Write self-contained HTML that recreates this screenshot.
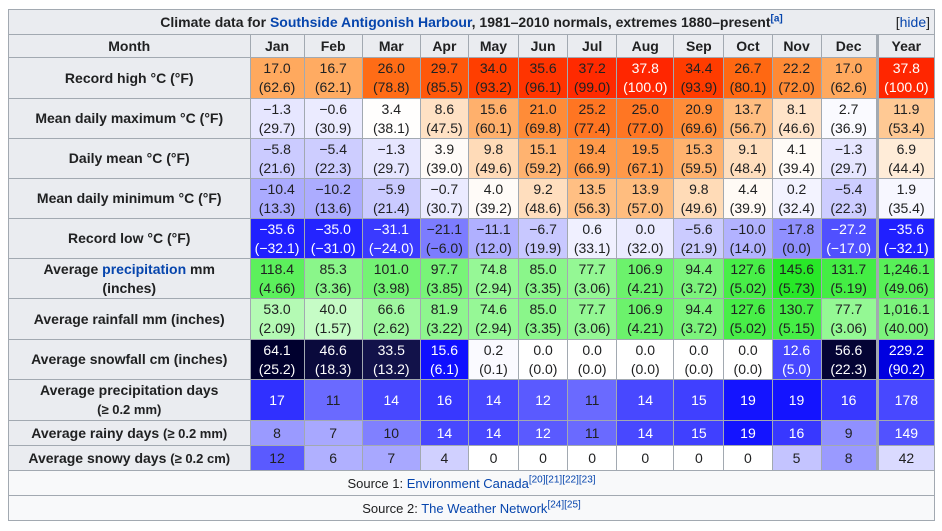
<!DOCTYPE html>
<html><head><meta charset="utf-8"><style>
body{margin:0;background:#fff;font-family:"Liberation Sans",Arial,sans-serif;font-size:14px;color:#202122}
table{position:absolute;left:8px;top:9px;border-collapse:collapse;table-layout:fixed;width:927px;background:#f8f9fa}
td,th{border:1px solid #a2a9b1;padding:0;text-align:center;line-height:19px;overflow:hidden;white-space:nowrap}
th{background:#eaecf0;font-weight:bold}
a{color:#0645ad;text-decoration:none}
.w{color:#fff}
sup{font-size:10px;line-height:0}
.y{border-left:3px solid #a2a9b1}
.s{font-size:13px}
</style></head><body>
<table>
<colgroup><col style="width:241px"><col style="width:54px"><col style="width:58px"><col style="width:58px"><col style="width:48px"><col style="width:50px"><col style="width:49px"><col style="width:49px"><col style="width:57px"><col style="width:50px"><col style="width:48px"><col style="width:49px"><col style="width:56px"><col style="width:57px"></colgroup>
<tr style="height:25px"><th colspan="14" style="position:relative">Climate data for <a>Southside Antigonish Harbour</a>, 1981–2010 normals, extremes 1880–present<sup><a>[a]</a></sup><span style="position:absolute;right:4px;font-weight:normal">[<a>hide</a>]</span></th></tr>
<tr style="height:23px"><th>Month</th><th>Jan</th><th>Feb</th><th>Mar</th><th>Apr</th><th>May</th><th>Jun</th><th>Jul</th><th>Aug</th><th>Sep</th><th>Oct</th><th>Nov</th><th>Dec</th><th class="y">Year</th></tr>
<tr style="height:41px"><th>Record high °C (°F)</th><td style="background:#ffa95e">17.0<br>(62.6)</td><td style="background:#ffab62">16.7<br>(62.1)</td><td style="background:#ff6c16">26.0<br>(78.8)</td><td style="background:#ff580a">29.7<br>(85.5)</td><td style="background:#ff3e00">34.0<br>(93.2)</td><td style="background:#ff3400">35.6<br>(96.1)</td><td style="background:#ff2a00">37.2<br>(99.0)</td><td class="w" style="background:#ff2600">37.8<br>(100.0)</td><td style="background:#ff3c00">34.4<br>(93.9)</td><td style="background:#ff6812">26.7<br>(80.1)</td><td style="background:#ff8a35">22.2<br>(72.0)</td><td style="background:#ffa95e">17.0<br>(62.6)</td><td class="w y" style="background:#ff2600">37.8<br>(100.0)</td></tr>
<tr style="height:40px"><th>Mean daily maximum °C (°F)</th><td style="background:#e6e6ff">−1.3<br>(29.7)</td><td style="background:#ebebff">−0.6<br>(30.9)</td><td style="background:#fffefd">3.4<br>(38.1)</td><td style="background:#ffe1c4">8.6<br>(47.5)</td><td style="background:#ffb06c">15.6<br>(60.1)</td><td style="background:#ff8c38">21.0<br>(69.8)</td><td style="background:#ff7522">25.2<br>(77.4)</td><td style="background:#ff7623">25.0<br>(77.0)</td><td style="background:#ff8d39">20.9<br>(69.6)</td><td style="background:#ffbd80">13.7<br>(56.7)</td><td style="background:#ffe3c8">8.1<br>(46.6)</td><td style="background:#fafaff">2.7<br>(36.9)</td><td class="y" style="background:#ffc994">11.9<br>(53.4)</td></tr>
<tr style="height:40px"><th>Daily mean °C (°F)</th><td style="background:#cbcbff">−5.8<br>(21.6)</td><td style="background:#cdcdff">−5.4<br>(22.3)</td><td style="background:#e6e6ff">−1.3<br>(29.7)</td><td style="background:#fffbf8">3.9<br>(39.0)</td><td style="background:#ffdbb8">9.8<br>(49.6)</td><td style="background:#ffb370">15.1<br>(59.2)</td><td style="background:#ff9a4a">19.4<br>(66.9)</td><td style="background:#ff9949">19.5<br>(67.1)</td><td style="background:#ffb26e">15.3<br>(59.5)</td><td style="background:#ffdebd">9.1<br>(48.4)</td><td style="background:#fffbf7">4.1<br>(39.4)</td><td style="background:#e6e6ff">−1.3<br>(29.7)</td><td class="y" style="background:#ffecd8">6.9<br>(44.4)</td></tr>
<tr style="height:40px"><th>Mean daily minimum °C (°F)</th><td style="background:#ababff">−10.4<br>(13.3)</td><td style="background:#acacff">−10.2<br>(13.6)</td><td style="background:#cacaff">−5.9<br>(21.4)</td><td style="background:#ebebff">−0.7<br>(30.7)</td><td style="background:#fffbf8">4.0<br>(39.2)</td><td style="background:#ffdebe">9.2<br>(48.6)</td><td style="background:#ffbf83">13.5<br>(56.3)</td><td style="background:#ffbd7f">13.9<br>(57.0)</td><td style="background:#ffdbb7">9.8<br>(49.6)</td><td style="background:#fffaf5">4.4<br>(39.9)</td><td style="background:#f3f3ff">0.2<br>(32.4)</td><td style="background:#cdcdff">−5.4<br>(22.3)</td><td class="y" style="background:#f7f7ff">1.9<br>(35.4)</td></tr>
<tr style="height:40px"><th>Record low °C (°F)</th><td class="w" style="background:#2020ff">−35.6<br>(−32.1)</td><td class="w" style="background:#2424ff">−35.0<br>(−31.0)</td><td class="w" style="background:#3a3aff">−31.1<br>(−24.0)</td><td style="background:#7c7cff">−21.1<br>(−6.0)</td><td style="background:#b0b0ff">−11.1<br>(12.0)</td><td style="background:#c8c8ff">−6.7<br>(19.9)</td><td style="background:#f0f0ff">0.6<br>(33.1)</td><td style="background:#ebebff">0.0<br>(32.0)</td><td style="background:#cbcbff">−5.6<br>(21.9)</td><td style="background:#b2b2ff">−10.0<br>(14.0)</td><td style="background:#9090ff">−17.8<br>(0.0)</td><td class="w" style="background:#5050ff">−27.2<br>(−17.0)</td><td class="w y" style="background:#2020ff">−35.6<br>(−32.1)</td></tr>
<tr style="height:40px"><th>Average <a>precipitation</a> mm<br>(inches)</th><td style="background:#5cf05c">118.4<br>(4.66)</td><td style="background:#8af68a">85.3<br>(3.36)</td><td style="background:#74f374">101.0<br>(3.98)</td><td style="background:#78f478">97.7<br>(3.85)</td><td style="background:#96f896">74.8<br>(2.94)</td><td style="background:#8af68a">85.0<br>(3.35)</td><td style="background:#94f894">77.7<br>(3.06)</td><td style="background:#6cf26c">106.9<br>(4.21)</td><td style="background:#7cf47c">94.4<br>(3.72)</td><td style="background:#48ee48">127.6<br>(5.02)</td><td style="background:#28e828">145.6<br>(5.73)</td><td style="background:#44ed44">131.7<br>(5.19)</td><td class="y" style="background:#58f058">1,246.1<br>(49.06)</td></tr>
<tr style="height:41px"><th>Average rainfall mm (inches)</th><td style="background:#b4fab4">53.0<br>(2.09)</td><td style="background:#c6fcc6">40.0<br>(1.57)</td><td style="background:#a0f8a0">66.6<br>(2.62)</td><td style="background:#8ef68e">81.9<br>(3.22)</td><td style="background:#96f896">74.6<br>(2.94)</td><td style="background:#8af68a">85.0<br>(3.35)</td><td style="background:#94f894">77.7<br>(3.06)</td><td style="background:#6cf26c">106.9<br>(4.21)</td><td style="background:#7cf47c">94.4<br>(3.72)</td><td style="background:#48ee48">127.6<br>(5.02)</td><td style="background:#46ee46">130.7<br>(5.15)</td><td style="background:#94f894">77.7<br>(3.06)</td><td class="y" style="background:#7cf47c">1,016.1<br>(40.00)</td></tr>
<tr style="height:40px"><th>Average snowfall cm (inches)</th><td class="w" style="background:#00002e">64.1<br>(25.2)</td><td class="w" style="background:#0a0a3c">46.6<br>(18.3)</td><td class="w" style="background:#12124a">33.5<br>(13.2)</td><td class="w" style="background:#1010ff">15.6<br>(6.1)</td><td style="background:#fafaff">0.2<br>(0.1)</td><td style="background:#fff">0.0<br>(0.0)</td><td style="background:#fff">0.0<br>(0.0)</td><td style="background:#fff">0.0<br>(0.0)</td><td style="background:#fff">0.0<br>(0.0)</td><td style="background:#fff">0.0<br>(0.0)</td><td class="w" style="background:#4848ff">12.6<br>(5.0)</td><td class="w" style="background:#040434">56.6<br>(22.3)</td><td class="w y" style="background:#0000e0">229.2<br>(90.2)</td></tr>
<tr style="height:41px"><th>Average precipitation days<br><span class="s">(≥ 0.2 mm)</span></th><td class="w" style="background:#3030ff">17</td><td style="background:#6a6aff">11</td><td class="w" style="background:#4848ff">14</td><td class="w" style="background:#3838ff">16</td><td class="w" style="background:#4848ff">14</td><td class="w" style="background:#5a5aff">12</td><td style="background:#6a6aff">11</td><td class="w" style="background:#4848ff">14</td><td class="w" style="background:#4040ff">15</td><td class="w" style="background:#1414ff">19</td><td class="w" style="background:#1414ff">19</td><td class="w" style="background:#3838ff">16</td><td class="w y" style="background:#4848ff">178</td></tr>
<tr style="height:25px"><th>Average rainy days <span class="s">(≥ 0.2 mm)</span></th><td style="background:#9a9aff">8</td><td style="background:#a8a8ff">7</td><td style="background:#8080ff">10</td><td class="w" style="background:#4848ff">14</td><td class="w" style="background:#4848ff">14</td><td class="w" style="background:#5a5aff">12</td><td style="background:#6a6aff">11</td><td class="w" style="background:#4848ff">14</td><td class="w" style="background:#4040ff">15</td><td class="w" style="background:#1414ff">19</td><td class="w" style="background:#3838ff">16</td><td style="background:#9090ff">9</td><td class="w y" style="background:#5252ff">149</td></tr>
<tr style="height:25px"><th>Average snowy days <span class="s">(≥ 0.2 cm)</span></th><td style="background:#5a5aff">12</td><td style="background:#b0b0ff">6</td><td style="background:#a8a8ff">7</td><td style="background:#d0d0ff">4</td><td style="background:#fff">0</td><td style="background:#fff">0</td><td style="background:#fff">0</td><td style="background:#fff">0</td><td style="background:#fff">0</td><td style="background:#fff">0</td><td style="background:#c4c4ff">5</td><td style="background:#9a9aff">8</td><td class="y" style="background:#dadaff">42</td></tr>
<tr style="height:25px"><td colspan="14" style="font-size:13px">Source 1: <a>Environment Canada</a><sup><a>[20][21][22][23]</a></sup></td></tr>
<tr style="height:25px"><td colspan="14" style="font-size:13px">Source 2: <a>The Weather Network</a><sup><a>[24][25]</a></sup></td></tr>
</table>
</body></html>
